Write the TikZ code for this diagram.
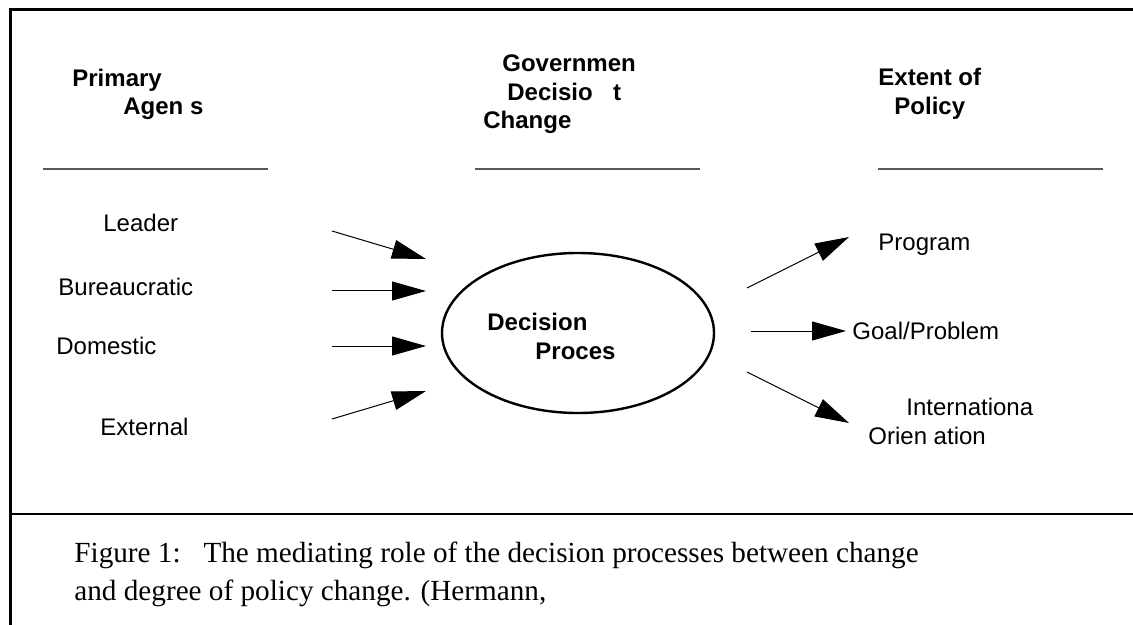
\documentclass[tikz,border=0pt]{standalone}
\usepackage{fontspec}
\setmainfont{Liberation Serif}
\setsansfont{Liberation Sans}
\usetikzlibrary{arrows.meta, shapes.geometric, positioning}

\tikzset{
  lbl/.style={anchor=base west, inner sep=0pt, font=\fontsize{12}{14}\selectfont\sffamily},
  head/.style={anchor=base west, inner sep=0pt, font=\fontsize{12}{14}\selectfont\sffamily\bfseries},
  rulebar/.style={draw=black!65, line width=0.7pt},
  flow/.style={line width=0.5pt, -{Triangle[length=17pt, width=9.5pt]}},
  captext/.style={anchor=base west, inner sep=0pt, font=\fontsize{14.6}{17}\selectfont\rmfamily}
}

\begin{document}
\begin{tikzpicture}[x=0.5pt, y=-0.5pt]
  \useasboundingbox (0,0) rectangle (1133,625);

  % Frame
  \draw[line width=1.5pt] (1133,10) -- (10,10) -- (10,625);
  \draw[line width=0.9pt] (10,514) -- (1133,514);

  % Column headings (LEFT)
  \node[head] (primA) at (72,87) {Primary};
  \node[head] (primB) at (123,115) {Agen s};
  \draw[rulebar] (43,169) -- (268,169);

  % Column headings (MIDDLE)
  \node[head] (govA) at (502,72) {Governmen};
  \node[head] (govB) at (507,101) {Decisio\hspace{0.85em}t};
  \node[head] (govC) at (483,129) {Change};
  \draw[rulebar] (475,169) -- (700,169);

  % Column headings (RIGHT)
  \node[head] (extA) at (878,86) {Extent of};
  \node[head] (extB) at (894,115) {Policy};
  \draw[rulebar] (878,169) -- (1103,169);

  % Sources of change
  \node[lbl] (leader) at (103,232) {Leader};
  \node[lbl] (bureau) at (58,296) {Bureaucratic};
  \node[lbl] (domest) at (56,354) {Domestic};
  \node[lbl] (extern) at (100,435) {External};

  % Decision process
  \node[ellipse, draw, line width=1.2pt, minimum width=136pt, minimum height=80pt,
        inner sep=0pt] (proc) at (578,333) {};
  \node[head] (procA) at (487,330) {Decision};
  \node[head] (procB) at (535,359) {Proces};

  % Extent of policy change
  \node[lbl] (prog) at (878,251) {Program};
  \node[lbl] (goal) at (852,339) {Goal/Problem};
  \node[lbl] (intlA) at (906,415) {Internationa};
  \node[lbl] (intlB) at (868,444) {Orien ation};

  % Arrows in
  \foreach \n/\ys/\ye in {lead/231/259, bur/291/291, dom/346/346, ext/419/391} {
    \coordinate (\n S) at (332,\ys);
    \coordinate (\n E) at (426,\ye);
    \draw[flow] (\n S) -- (\n E);
  }

  % Arrows out
  \foreach \n/\xs/\ys/\xe/\ye in {prg/747/288/849/237, gol/751/331/846/331, int/747/372/849/423} {
    \coordinate (\n S) at (\xs,\ys);
    \coordinate (\n E) at (\xe,\ye);
    \draw[flow] (\n S) -- (\n E);
  }

  % Caption
  \node[captext] (capA) at (74,562) {Figure 1:\hspace{0.45em} The mediating role of the decision processes between change};
  \node[captext] (capB) at (74,600) {and degree of policy change. (Hermann,};
\end{tikzpicture}
\end{document}
